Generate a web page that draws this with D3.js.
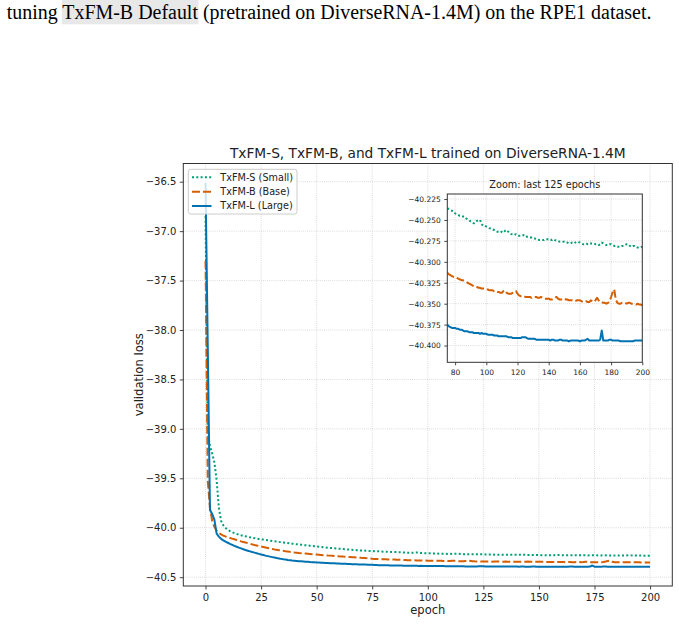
<!DOCTYPE html>
<html><head><meta charset="utf-8">
<script src="https://cdn.jsdelivr.net/npm/d3@7"></script>
<style>body{margin:0;background:#fff} svg{display:block} text{white-space:pre}</style>
</head><body>
<script>
// ---------------- DATA ----------------
const seriesNames = ["TxFM-S (Small)", "TxFM-B (Base)", "TxFM-L (Large)"];
const lossSmall = [
-36.85,-39.05,-39.17,-39.25,-39.34,-39.52,-39.80,-39.93,-39.975,-40.002,
-40.020,-40.034,-40.045,-40.054,-40.062,-40.069,-40.076,-40.082,-40.087,-40.092,
-40.097,-40.101,-40.105,-40.109,-40.113,-40.117,-40.120,-40.124,-40.127,-40.130,
-40.134,-40.137,-40.140,-40.143,-40.146,-40.149,-40.152,-40.155,-40.158,-40.161,
-40.164,-40.167,-40.169,-40.172,-40.175,-40.177,-40.180,-40.182,-40.185,-40.187,
-40.190,-40.192,-40.195,-40.197,-40.199,-40.202,-40.204,-40.206,-40.208,-40.210,
-40.212,-40.214,-40.216,-40.218,-40.220,-40.222,-40.223,-40.225,-40.227,-40.228,
-40.230,-40.231,-40.232,-40.234,-40.235,-40.236,-40.237,-40.238,-40.239,-40.241,
-40.242,-40.243,-40.244,-40.245,-40.245,-40.246,-40.246,-40.248,-40.249,-40.250,
-40.252,-40.253,-40.254,-40.253,-40.251,-40.250,-40.250,-40.255,-40.257,-40.257,
-40.258,-40.259,-40.260,-40.260,-40.261,-40.262,-40.263,-40.264,-40.264,-40.265,
-40.264,-40.265,-40.263,-40.262,-40.264,-40.266,-40.267,-40.267,-40.268,-40.267,
-40.268,-40.269,-40.269,-40.269,-40.268,-40.268,-40.270,-40.270,-40.271,-40.271,
-40.272,-40.272,-40.273,-40.273,-40.274,-40.274,-40.274,-40.274,-40.273,-40.273,
-40.273,-40.273,-40.274,-40.273,-40.274,-40.275,-40.275,-40.276,-40.276,-40.276,
-40.276,-40.277,-40.277,-40.278,-40.278,-40.277,-40.278,-40.277,-40.276,-40.276,
-40.277,-40.278,-40.279,-40.279,-40.278,-40.279,-40.278,-40.278,-40.278,-40.278,
-40.279,-40.279,-40.280,-40.279,-40.277,-40.278,-40.279,-40.280,-40.280,-40.279,
-40.279,-40.280,-40.281,-40.281,-40.282,-40.282,-40.282,-40.281,-40.281,-40.280,
-40.279,-40.279,-40.281,-40.282,-40.281,-40.281,-40.282,-40.283,-40.283,-40.283,
-40.282];
const lossBase = [
-37.30,-39.52,-39.80,-39.93,-39.99,-40.030,-40.052,-40.067,-40.079,-40.088,
-40.096,-40.103,-40.110,-40.117,-40.124,-40.131,-40.138,-40.144,-40.150,-40.156,
-40.162,-40.168,-40.174,-40.179,-40.185,-40.190,-40.195,-40.200,-40.205,-40.210,
-40.214,-40.219,-40.223,-40.227,-40.231,-40.234,-40.238,-40.241,-40.244,-40.247,
-40.250,-40.252,-40.255,-40.257,-40.259,-40.261,-40.263,-40.265,-40.267,-40.269,
-40.271,-40.273,-40.275,-40.277,-40.279,-40.281,-40.282,-40.284,-40.286,-40.287,
-40.289,-40.290,-40.292,-40.293,-40.295,-40.296,-40.298,-40.299,-40.301,-40.302,
-40.304,-40.305,-40.307,-40.308,-40.310,-40.313,-40.315,-40.316,-40.317,-40.318,
-40.318,-40.319,-40.320,-40.321,-40.322,-40.322,-40.323,-40.324,-40.325,-40.326,
-40.327,-40.328,-40.329,-40.329,-40.330,-40.331,-40.331,-40.332,-40.332,-40.332,
-40.333,-40.333,-40.334,-40.334,-40.334,-40.335,-40.335,-40.336,-40.336,-40.337,
-40.337,-40.335,-40.334,-40.337,-40.338,-40.338,-40.338,-40.337,-40.336,-40.335,
-40.338,-40.340,-40.341,-40.341,-40.341,-40.342,-40.342,-40.342,-40.342,-40.343,
-40.342,-40.342,-40.342,-40.343,-40.343,-40.342,-40.343,-40.344,-40.344,-40.344,
-40.344,-40.345,-40.345,-40.344,-40.343,-40.342,-40.344,-40.345,-40.345,-40.345,
-40.344,-40.345,-40.345,-40.346,-40.346,-40.346,-40.347,-40.347,-40.346,-40.346,
-40.346,-40.347,-40.348,-40.347,-40.347,-40.348,-40.348,-40.346,-40.347,-40.348,
-40.346,-40.343,-40.346,-40.348,-40.348,-40.349,-40.349,-40.350,-40.349,-40.347,
-40.342,-40.336,-40.333,-40.345,-40.349,-40.350,-40.350,-40.349,-40.349,-40.349,
-40.350,-40.349,-40.349,-40.350,-40.350,-40.350,-40.351,-40.350,-40.351,-40.351,
-40.352];
const lossLarge = [
-36.51,-38.15,-39.82,-39.86,-39.92,-40.060,-40.090,-40.112,-40.128,-40.141,
-40.152,-40.163,-40.173,-40.183,-40.192,-40.201,-40.209,-40.217,-40.225,-40.232,
-40.239,-40.246,-40.252,-40.258,-40.264,-40.270,-40.276,-40.282,-40.287,-40.292,
-40.297,-40.302,-40.307,-40.311,-40.315,-40.319,-40.322,-40.326,-40.329,-40.332,
-40.334,-40.336,-40.338,-40.340,-40.342,-40.344,-40.345,-40.347,-40.348,-40.349,
-40.351,-40.352,-40.353,-40.354,-40.356,-40.357,-40.358,-40.359,-40.360,-40.361,
-40.362,-40.363,-40.364,-40.365,-40.366,-40.367,-40.368,-40.369,-40.370,-40.371,
-40.371,-40.372,-40.373,-40.374,-40.374,-40.375,-40.377,-40.378,-40.379,-40.379,
-40.379,-40.380,-40.380,-40.381,-40.381,-40.382,-40.383,-40.383,-40.383,-40.384,
-40.384,-40.384,-40.385,-40.385,-40.385,-40.385,-40.386,-40.385,-40.386,-40.386,
-40.386,-40.387,-40.387,-40.387,-40.387,-40.388,-40.388,-40.388,-40.389,-40.389,
-40.389,-40.389,-40.389,-40.389,-40.390,-40.390,-40.390,-40.391,-40.391,-40.391,
-40.391,-40.391,-40.391,-40.390,-40.390,-40.390,-40.391,-40.392,-40.392,-40.392,
-40.392,-40.392,-40.393,-40.393,-40.393,-40.393,-40.393,-40.393,-40.393,-40.393,
-40.393,-40.394,-40.393,-40.393,-40.394,-40.394,-40.394,-40.393,-40.393,-40.394,
-40.394,-40.394,-40.394,-40.395,-40.394,-40.394,-40.394,-40.394,-40.394,-40.394,
-40.395,-40.394,-40.394,-40.394,-40.393,-40.392,-40.394,-40.394,-40.394,-40.394,
-40.394,-40.394,-40.394,-40.393,-40.382,-40.394,-40.394,-40.394,-40.394,-40.393,
-40.393,-40.394,-40.394,-40.394,-40.394,-40.394,-40.395,-40.395,-40.395,-40.395,
-40.395,-40.395,-40.395,-40.395,-40.395,-40.394,-40.394,-40.394,-40.394,-40.394,
-40.394];
const xTicksMain = [0,25,50,75,100,125,150,175,200];
const yTicksMain = [-40.5,-40.0,-39.5,-39.0,-38.5,-38.0,-37.5,-37.0,-36.5];
const xTicksZoom = [80,100,120,140,160,180,200];
const yTicksZoom = [-40.4,-40.375,-40.35,-40.325,-40.3,-40.275,-40.25,-40.225];
const zoomFirstEpoch = 75, zoomLastEpoch = 200;
const zoomYRange = [-40.42, -40.219];
const titleText = "TxFM-S, TxFM-B, and TxFM-L trained on DiverseRNA-1.4M";
const zoomTitle = "Zoom: last 125 epochs";
const xLabel = "epoch", yLabel = "validation loss";
const captionText = "tuning TxFM-B Default (pretrained on DiverseRNA-1.4M) on the RPE1 dataset.";
const captionHighlight = "TxFM-B Default";

// ---------------- STYLE ----------------
const colors = ["#009E73", "#D55E00", "#0072B2"];
const dashes = ["2,2.3", "8,3", null];
const FONT = "DejaVu Sans";
const W = 679, H = 624;

const svg = d3.select("body").append("svg").attr("width", W).attr("height", H)
  .style("font-family", FONT);

// caption at top (page text)
{
  const g = svg.append("g");
  const hl = g.append("rect").attr("fill", "#e8e8e8");
  const t = g.append("text").attr("x", 6.7).attr("y", 18.6)
    .style("font-family", "Liberation Serif").attr("font-size", 19).attr("fill", "#000")
    .text(captionText);
  const w = t.node().getComputedTextLength();
  t.attr("font-size", 19 * 645 / w);
  const i0 = captionText.indexOf(captionHighlight);
  const i1 = i0 + captionHighlight.length - 1;
  const s = t.node().getStartPositionOfChar(i0).x;
  const e = t.node().getEndPositionOfChar(i1).x;
  hl.attr("x", s - 0.5).attr("y", -1).attr("width", e - s + 1).attr("height", 25.3);
}

const series = [lossSmall, lossBase, lossLarge];
const epochs = d3.range(lossLarge.length);

// ---------------- MAIN AXES ----------------
const M = {l: 183.3, r: 672.3, t: 163.5, b: 586};
const xMax = epochs[epochs.length - 1];
const xPad = 0.05 * xMax;
const x = d3.scaleLinear().domain([-xPad, xMax + xPad]).range([M.l, M.r]);
const allVals = series.flat();
const [yMin, yMax] = d3.extent(allVals);
const yPad = 0.05 * (yMax - yMin);
const y = d3.scaleLinear().domain([yMin - yPad, yMax + yPad]).range([M.b, M.t]);

const gridStyle = g => g.attr("stroke", "#c8c8c8").attr("stroke-width", 0.8)
  .attr("stroke-dasharray", "0.8,1.3");

const main = svg.append("g");
main.append("rect").attr("x", M.l).attr("y", M.t).attr("width", M.r - M.l).attr("height", M.b - M.t).attr("fill", "#fff");
main.append("g").selectAll("line").data(xTicksMain).join("line")
  .attr("x1", d => x(d)).attr("x2", d => x(d)).attr("y1", M.t).attr("y2", M.b).call(gridStyle);
main.append("g").selectAll("line").data(yTicksMain).join("line")
  .attr("y1", d => y(d)).attr("y2", d => y(d)).attr("x1", M.l).attr("x2", M.r).call(gridStyle);

const line = d3.line().x((d, i) => x(epochs[i])).y(d => y(d));
series.forEach((s, k) => {
  main.append("path").datum(s).attr("d", line).attr("fill", "none")
    .attr("stroke", colors[k]).attr("stroke-width", 2)
    .attr("stroke-dasharray", dashes[k]).attr("stroke-linejoin", "round");
});

main.append("rect").attr("x", M.l).attr("y", M.t).attr("width", M.r - M.l).attr("height", M.b - M.t)
  .attr("fill", "none").attr("stroke", "#333").attr("stroke-width", 1);

const axStyle = (g, fs) => {
  g.select(".domain").remove();
  g.selectAll(".tick line").attr("stroke", "#333").attr("stroke-width", 0.9);
  g.selectAll(".tick text").attr("fill", "#222").style("font-family", FONT).attr("font-size", fs);
};
main.append("g").attr("transform", `translate(0,${M.b})`)
  .call(d3.axisBottom(x).tickValues(xTicksMain).tickFormat(d3.format("d")).tickSize(3.5).tickPadding(4.5))
  .call(g => axStyle(g, 10));
main.append("g").attr("transform", `translate(${M.l},0)`)
  .call(d3.axisLeft(y).tickValues(yTicksMain).tickFormat(d3.format(".1f")).tickSize(3.5).tickPadding(3.5))
  .call(g => axStyle(g, 10));

svg.append("text").attr("x", (M.l + M.r) / 2).attr("y", 614).attr("text-anchor", "middle")
  .attr("font-size", 11.5).attr("fill", "#222").text(xLabel);
svg.append("text").attr("transform", `translate(143.3,${(M.t + M.b) / 2}) rotate(-90)`)
  .attr("text-anchor", "middle").attr("font-size", 11.6).attr("fill", "#222").text(yLabel);

{
  const t = svg.append("text").attr("x", (M.l + M.r) / 2).attr("y", 157.8).attr("text-anchor", "middle")
    .attr("font-size", 12).attr("fill", "#222").text(titleText);
  const w = t.node().getComputedTextLength();
  t.attr("font-size", 12 * 396 / w);
}

// legend
{
  const L = {x: 188.3, y: 169.3, w: 108.7, h: 44.7};
  const lg = svg.append("g");
  lg.append("rect").attr("x", L.x).attr("y", L.y).attr("width", L.w).attr("height", L.h)
    .attr("rx", 2.5).attr("fill", "#fff").attr("fill-opacity", 0.8)
    .attr("stroke", "#cccccc").attr("stroke-width", 1);
  const rowsY = [177.3, 191.7, 206];
  seriesNames.forEach((n, k) => {
    lg.append("line").attr("x1", 192).attr("x2", 211.5).attr("y1", rowsY[k]).attr("y2", rowsY[k])
      .attr("stroke", colors[k]).attr("stroke-width", 2).attr("stroke-dasharray", dashes[k]);
    lg.append("text").attr("x", 220.3).attr("y", rowsY[k]).attr("dy", "0.36em")
      .attr("font-size", 9.7).attr("fill", "#222").text(n);
  });
}

// ---------------- INSET ----------------
const I = {l: 447.3, r: 642.3, t: 194, b: 362.3};
const xz = d3.scaleLinear().domain([zoomFirstEpoch, zoomLastEpoch]).range([I.l, I.r]);
const yz = d3.scaleLinear().domain(zoomYRange).range([I.b, I.t]);
const inset = svg.append("g");
inset.append("rect").attr("x", I.l).attr("y", I.t).attr("width", I.r - I.l).attr("height", I.b - I.t).attr("fill", "#fff");
inset.append("clipPath").attr("id", "clipz").append("rect")
  .attr("x", I.l).attr("y", I.t).attr("width", I.r - I.l).attr("height", I.b - I.t);
inset.append("g").selectAll("line").data(xTicksZoom).join("line")
  .attr("x1", d => xz(d)).attr("x2", d => xz(d)).attr("y1", I.t).attr("y2", I.b).call(gridStyle);
inset.append("g").selectAll("line").data(yTicksZoom).join("line")
  .attr("y1", d => yz(d)).attr("y2", d => yz(d)).attr("x1", I.l).attr("x2", I.r).call(gridStyle);
const zoomIdx = epochs.filter(e => e >= zoomFirstEpoch);
const lineZ = d3.line().x(d => xz(d[0])).y(d => yz(d[1]));
const pl = inset.append("g").attr("clip-path", "url(#clipz)");
series.forEach((s, k) => {
  pl.append("path").datum(zoomIdx.map(e => [e, s[e]])).attr("d", lineZ).attr("fill", "none")
    .attr("stroke", colors[k]).attr("stroke-width", 2)
    .attr("stroke-dasharray", dashes[k]).attr("stroke-linejoin", "round");
});
inset.append("rect").attr("x", I.l).attr("y", I.t).attr("width", I.r - I.l).attr("height", I.b - I.t)
  .attr("fill", "none").attr("stroke", "#333").attr("stroke-width", 1);
inset.append("g").attr("transform", `translate(0,${I.b})`)
  .call(d3.axisBottom(xz).tickValues(xTicksZoom).tickFormat(d3.format("d")).tickSize(3).tickPadding(4))
  .call(g => axStyle(g, 7.5));
inset.append("g").attr("transform", `translate(${I.l},0)`)
  .call(d3.axisLeft(yz).tickValues(yTicksZoom).tickFormat(d3.format(".3f")).tickSize(3).tickPadding(3.5))
  .call(g => axStyle(g, 7.5));
inset.append("text").attr("x", (I.l + I.r) / 2).attr("y", 188).attr("text-anchor", "middle")
  .attr("font-size", 9.7).attr("fill", "#222").text(zoomTitle);
</script>
</body></html>
